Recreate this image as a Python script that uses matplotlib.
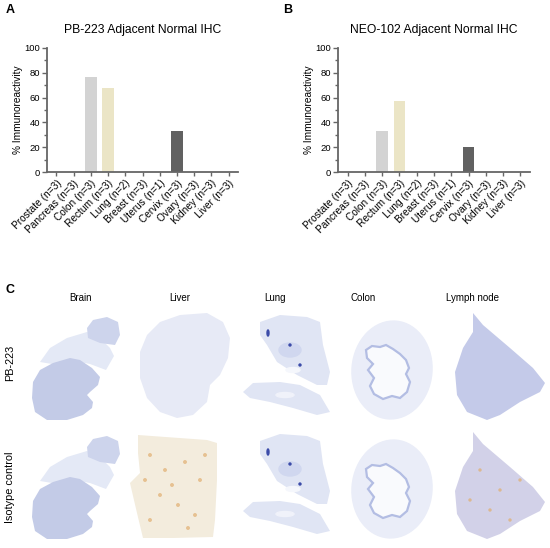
import matplotlib
matplotlib.use("Agg")
import matplotlib.pyplot as plt
from matplotlib.patches import Polygon, Ellipse
import numpy as np

plt.rcParams['font.family'] = ['Liberation Sans', 'DejaVu Sans']

# ---------------- data ----------------
categories = ["Prostate (n=3)", "Pancreas (n=3)", "Colon (n=3)", "Rectum (n=3)",
              "Lung (n=2)", "Breast (n=3)", "Uterus (n=1)", "Cervix (n=3)",
              "Ovary (n=3)", "Kidney (n=3)", "Liver (n=3)"]
pb223_values = [0, 0, 77, 68, 0, 0, 0, 33, 0, 0, 0]
neo102_values = [0, 0, 33, 57, 0, 0, 0, 20, 0, 0, 0]
bar_colors = ["#d3d3d3", "#d3d3d3", "#d3d3d3", "#ebe5c6", "#d3d3d3", "#d3d3d3",
              "#d3d3d3", "#616161", "#d3d3d3", "#d3d3d3", "#d3d3d3"]
yticks = [0, 20, 40, 60, 80, 100]
titles = ["PB-223 Adjacent Normal IHC", "NEO-102 Adjacent Normal IHC"]
tissues = ["Brain", "Liver", "Lung", "Colon", "Lymph node"]
rows = ["PB-223", "Isotype control"]

W, H = 550, 548
fig = plt.figure(figsize=(W / 100, H / 100), dpi=100)

# ---------------- panel C (tissue sections, drawn as shapes) ----------------
axc = fig.add_axes([0, 0, 1, 1])
axc.set_xlim(0, W)
axc.set_ylim(H, 0)
axc.axis('off')

brain_main = [(33, 382), (40, 370), (53, 363), (70, 358), (80, 360), (92, 368), (100, 377),
              (98, 385), (90, 392), (87, 395), (93, 402), (92, 408), (83, 415), (67, 420),
              (47, 420), (35, 412), (32, 398)]
brain_pale = [(40, 362), (50, 348), (67, 338), (87, 332), (100, 338), (110, 348), (114, 356),
              (106, 370), (90, 364), (70, 360), (52, 364)]
brain_lobe = [(87, 328), (93, 320), (107, 317), (118, 322), (120, 335), (115, 345), (100, 343),
              (88, 338)]
liver1 = [(140, 352), (147, 335), (160, 322), (180, 315), (207, 313), (223, 322), (230, 338),
          (228, 358), (220, 375), (210, 385), (207, 402), (193, 415), (177, 418), (160, 412),
          (147, 398), (140, 378)]
liver2 = [(138, 435), (207, 440), (217, 443), (217, 480), (215, 520), (213, 537), (173, 538),
          (143, 538), (137, 513), (130, 483), (140, 473), (138, 453)]
lung_up = [(260, 322), (280, 315), (307, 317), (320, 322), (323, 345), (330, 372), (327, 385),
           (317, 385), (297, 375), (277, 362), (267, 345), (260, 335)]
lung_low = [(243, 392), (253, 383), (280, 382), (300, 385), (320, 395), (330, 412), (317, 415),
            (293, 408), (270, 402), (250, 398)]
lymph = [(473, 313), (483, 325), (510, 348), (533, 368), (545, 383), (540, 392), (520, 402),
         (500, 415), (487, 420), (467, 412), (457, 395), (455, 372), (463, 348), (473, 332)]
colon_lumen = [(366, 350), (372, 346), (380, 347), (386, 345), (393, 349), (400, 354), (406, 360),
               (409, 368), (406, 374), (410, 382), (407, 392), (400, 398), (392, 396), (383, 399),
               (374, 394), (370, 386), (374, 378), (368, 370), (373, 364), (367, 358)]


def shift(pts, dy):
    return [(x, y + dy) for x, y in pts]


def poly(pts, color, z=1):
    axc.add_patch(Polygon(pts, closed=True, facecolor=color, edgecolor='none', lw=0, zorder=z))


for r, dy in enumerate([0, 119]):
    # brain
    poly(shift(brain_pale, dy), "#e4e9f6")
    poly(shift(brain_main, dy), "#c3cbe7", 2)
    poly(shift(brain_lobe, dy), "#cdd4ec", 2)
    # liver
    if r == 0:
        poly(liver1, "#e7eaf6")
    else:
        poly(liver2, "#f3ecdd")
        for (x, y) in [(150, 455), (165, 470), (185, 462), (200, 480), (160, 495), (178, 505),
                       (195, 515), (150, 520), (205, 455), (172, 485), (188, 528), (145, 480)]:
            axc.add_patch(Ellipse((x, y), 2.5, 2.5, color="#e6c191", zorder=2))
    # lung
    poly(shift(lung_up, dy), "#e0e5f4")
    poly(shift(lung_low, dy), "#e0e5f4")
    axc.add_patch(Ellipse((290, 350 + dy), 22, 14, color="#d0d7ef", zorder=2))
    axc.add_patch(Ellipse((293, 370 + dy), 14, 5, color="#f5f7fc", zorder=3))
    axc.add_patch(Ellipse((285, 395 + dy), 18, 5, color="#f0f2fa", zorder=3))
    for (x, y, w, h) in [(268, 333, 2, 6), (290, 345, 2, 2), (300, 365, 2, 2)]:
        axc.add_patch(Ellipse((x, y + dy), w, h, color="#3a4aa8", zorder=4))
    # colon
    axc.add_patch(Ellipse((392, 370 + dy), 80, 98, angle=5, color="#eaedf8", zorder=1))
    axc.add_patch(Polygon(shift(colon_lumen, dy), closed=True, facecolor="#f9fafd",
                          edgecolor="#b3bde3", lw=1.6, zorder=2))
    # lymph node
    poly(shift(lymph, dy), "#c4cae9" if r == 0 else "#d2d1e8")
    if r == 1:
        for (x, y) in [(480, 470), (500, 490), (520, 480), (490, 510), (510, 520), (470, 500)]:
            axc.add_patch(Ellipse((x, y), 2, 2, color="#dcb892", zorder=3))

col_x = [80, 180, 275, 363, 473]
for name, x in zip(tissues, col_x):
    axc.text(x, 298, name, ha='center', va='center', fontsize=7)
for name, y in zip(rows, [363, 487]):
    axc.text(10, y, name, ha='center', va='center', fontsize=7.8, rotation=90)

# ---------------- panels A and B ----------------
def bar_panel(rect, values, title):
    ax = fig.add_axes(rect)
    x = np.arange(len(categories))
    ax.bar(x, values, width=0.68, color=bar_colors, edgecolor='none', zorder=2)
    ax.set_xlim(-0.55, len(categories) - 0.45)
    ax.set_ylim(0, 100)
    ax.set_yticks(yticks)
    ax.set_yticks(np.arange(10, 100, 20), minor=True)
    ax.set_xticks(x)
    ax.set_xticklabels(categories, rotation=45, ha='right', rotation_mode='anchor', fontsize=7.3)
    ax.tick_params(axis='y', labelsize=6.8, length=3.5, width=1.0, color='#666666', pad=1.5)
    ax.tick_params(axis='y', which='minor', length=2, width=1.0, color='#666666')
    ax.tick_params(axis='x', length=3, width=1.0, color='#666666', pad=1.5)
    for s in ['top', 'right']:
        ax.spines[s].set_visible(False)
    for s in ['left', 'bottom']:
        ax.spines[s].set_color('#666666')
        ax.spines[s].set_linewidth(1.3)
    ax.set_ylabel("% Immunoreactivity", fontsize=7.3, labelpad=1)
    ax.set_title(title, fontsize=8.7, pad=11)
    ax.patch.set_alpha(0)
    return ax


axA = bar_panel([47 / W, 1 - 172 / H, 191 / W, 124 / H], pb223_values, titles[0])
axB = bar_panel([338 / W, 1 - 172 / H, 192 / W, 124 / H], neo102_values, titles[1])

fig.text(6 / W, 1 - 10 / H, "A", fontsize=9, fontweight='bold', ha='left', va='center')
fig.text(283 / W, 1 - 10 / H, "B", fontsize=9, fontweight='bold', ha='left', va='center')
fig.text(5 / W, 1 - 290 / H, "C", fontsize=9, fontweight='bold', ha='left', va='center')

fig.savefig("out.png", dpi=100)
